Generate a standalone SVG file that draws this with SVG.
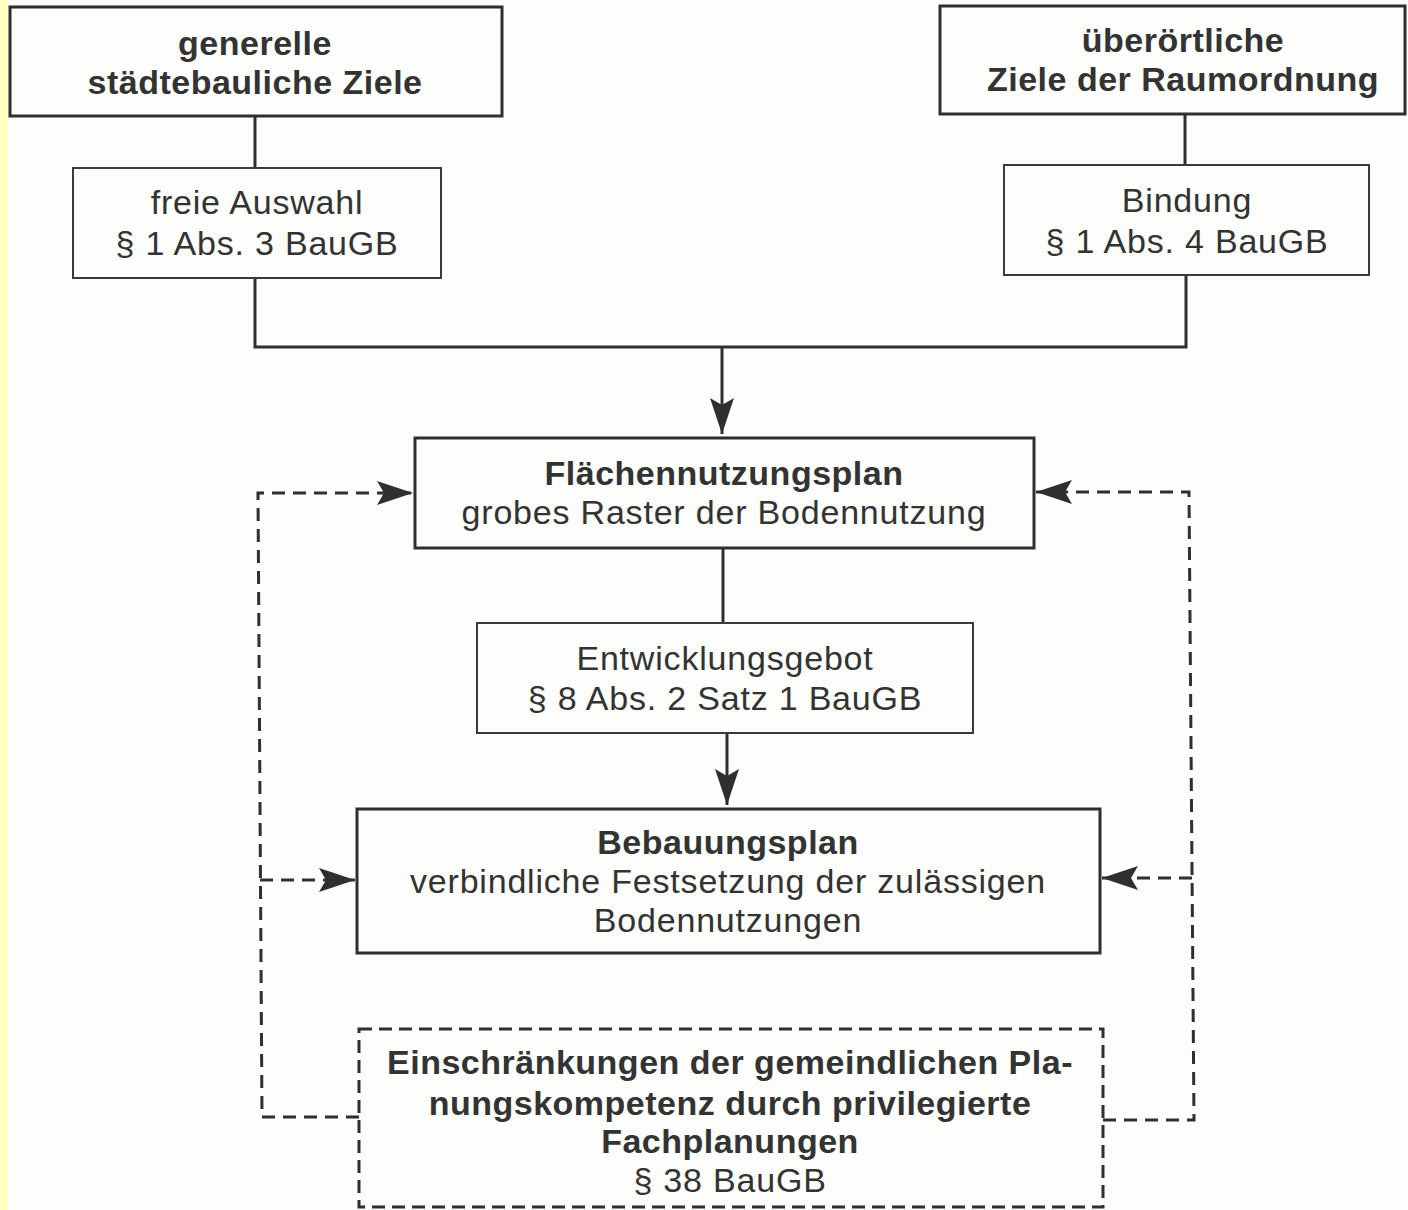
<svg xmlns="http://www.w3.org/2000/svg" width="1408" height="1210" viewBox="0 0 1408 1210">
<defs>
<style>
.box{fill:none;stroke:#2f2f2f;stroke-width:3}
.sub{fill:none;stroke:#3a3a3a;stroke-width:2}
.dbox{fill:none;stroke:#2f2f2f;stroke-width:3;stroke-dasharray:13 7}
.line{fill:none;stroke:#2f2f2f;stroke-width:3}
.dash{fill:none;stroke:#2f2f2f;stroke-width:3;stroke-dasharray:13 8}
text{font-family:"Liberation Sans",Arial,sans-serif;font-size:34px;fill:#333;text-anchor:middle;letter-spacing:0.8px}
.b{font-weight:bold;letter-spacing:0.5px}
</style>
<marker id="arr" markerUnits="userSpaceOnUse" markerWidth="38" markerHeight="24" refX="36" refY="12" orient="auto" viewBox="0 0 38 24">
<path d="M0,0 L36,12 L0,24 L7,12 z" fill="#2f2f2f"/>
</marker>
</defs>
<rect x="0" y="0" width="1408" height="1210" fill="#fdfdfb"/>
<rect x="0" y="0" width="8" height="1210" fill="#ffffc4"/>

<g id="connectors">
<line class="line" x1="255" y1="116" x2="255" y2="168"/>
<line class="line" x1="1185" y1="114" x2="1185" y2="165"/>
<polyline class="line" points="255,278 255,347 1186,347 1186,275"/>
<line class="line" x1="722" y1="347" x2="722" y2="434" marker-end="url(#arr)"/>
<line class="line" x1="723" y1="548" x2="723" y2="623"/>
<line class="line" x1="727" y1="733" x2="727" y2="805" marker-end="url(#arr)"/>
<polyline class="dash" points="359,1117 262,1117 258,493 413,493" marker-end="url(#arr)"/>
<line class="dash" x1="260" y1="880" x2="355" y2="880" marker-end="url(#arr)"/>
<polyline class="dash" points="1103,1120 1194,1120 1189,492 1036,492" marker-end="url(#arr)"/>
<line class="dash" x1="1192" y1="878" x2="1102" y2="878" marker-end="url(#arr)"/>
</g>

<g id="node-staedtebau">
<rect class="box" x="10" y="7" width="492" height="109"/>
<text class="b" x="255" y="55">generelle</text>
<text class="b" x="255" y="94">städtebauliche Ziele</text>
</g>

<g id="node-freie-auswahl">
<rect class="sub" x="73" y="168" width="368" height="110"/>
<text x="257" y="214">freie Auswahl</text>
<text x="257" y="255">§ 1 Abs. 3 BauGB</text>
</g>

<g id="node-raumordnung">
<rect class="box" x="940" y="6" width="465" height="108"/>
<text class="b" x="1183" y="52">überörtliche</text>
<text class="b" x="1183" y="91">Ziele der Raumordnung</text>
</g>

<g id="node-bindung">
<rect class="sub" x="1004" y="165" width="365" height="110"/>
<text x="1187" y="212">Bindung</text>
<text x="1187" y="253">§ 1 Abs. 4 BauGB</text>
</g>

<g id="node-fnp">
<rect class="box" x="415" y="438" width="619" height="110"/>
<text class="b" x="724" y="485">Flächennutzungsplan</text>
<text x="724" y="524">grobes Raster der Bodennutzung</text>
</g>

<g id="node-entwicklungsgebot">
<rect class="sub" x="477" y="623" width="496" height="110"/>
<text x="725" y="670">Entwicklungsgebot</text>
<text x="725" y="710">§ 8 Abs. 2 Satz 1 BauGB</text>
</g>

<g id="node-bebauungsplan">
<rect class="box" x="357" y="809" width="743" height="144"/>
<text class="b" x="728" y="854">Bebauungsplan</text>
<text x="728" y="893">verbindliche Festsetzung der zulässigen</text>
<text x="728" y="932">Bodennutzungen</text>
</g>

<g id="node-einschraenkungen">
<rect class="dbox" x="359" y="1029" width="744" height="178"/>
<text class="b" x="730" y="1074">Einschränkungen der gemeindlichen Pla-</text>
<text class="b" x="730" y="1115">nungskompetenz durch privilegierte</text>
<text class="b" x="730" y="1153">Fachplanungen</text>
<text x="730" y="1192">§ 38 BauGB</text>
</g>
</svg>
